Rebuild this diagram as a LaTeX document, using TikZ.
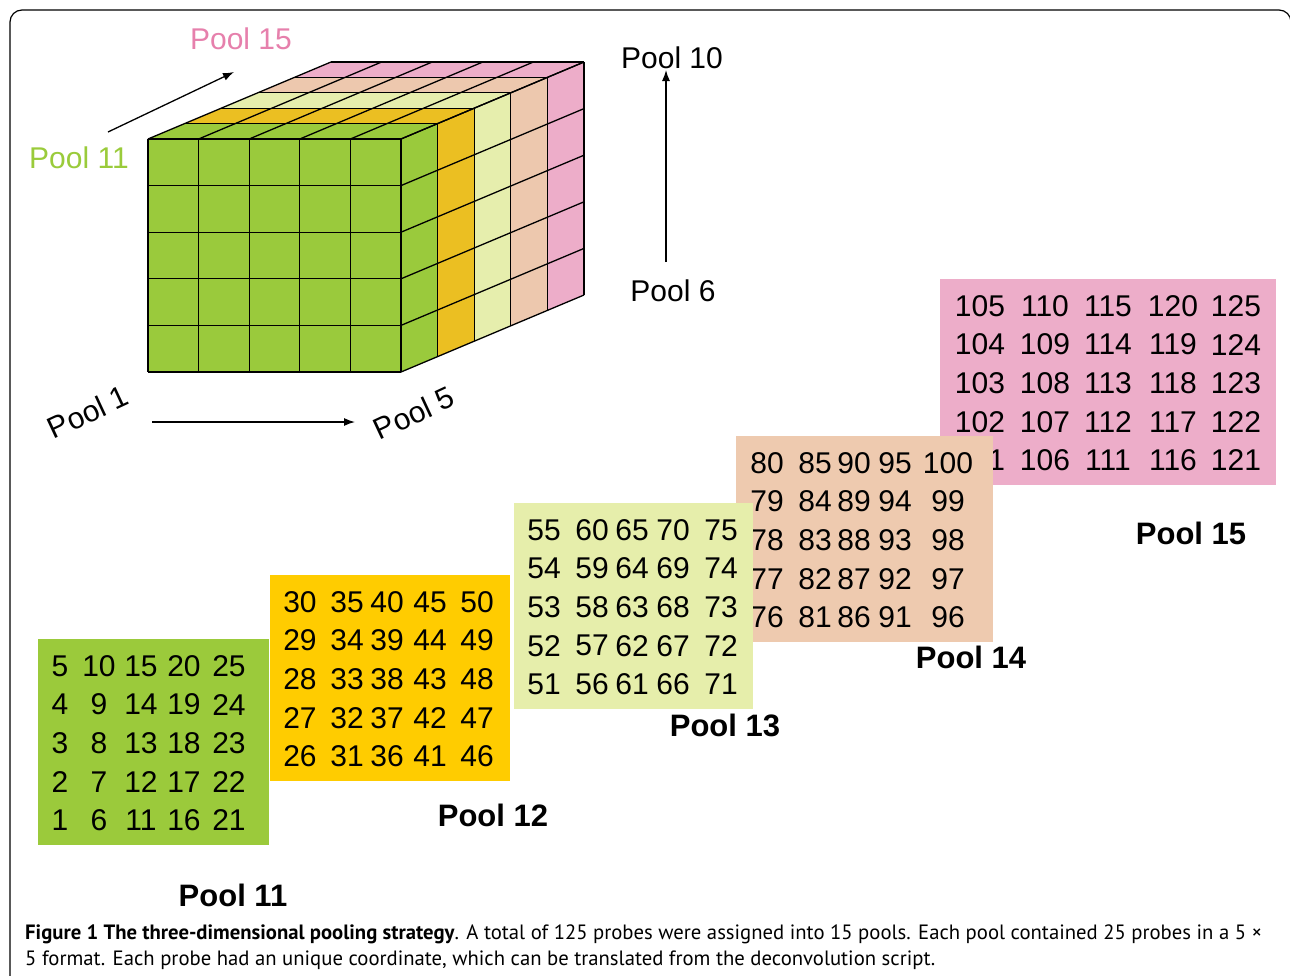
\documentclass[tikz,border=0pt]{standalone}
\usepackage{fontspec}
\setmainfont{Liberation Sans}
\newfontfamily\capfont{PT Sans}
\usetikzlibrary{arrows.meta}
\definecolor{cubegreen}{HTML}{9ACA3C}
\definecolor{cubeorange}{HTML}{EBBF22}
\definecolor{cubeyellow}{HTML}{E6EEAD}
\definecolor{cubepeach}{HTML}{EDC8AE}
\definecolor{cubepink}{HTML}{EDADC9}
\definecolor{panelgreen}{HTML}{9BCA3B}
\definecolor{panelorange}{HTML}{FFCC00}
\definecolor{panelyellow}{HTML}{E6EEAB}
\definecolor{panelpeach}{HTML}{EECAAF}
\definecolor{panelpink}{HTML}{EDADC9}
\definecolor{labelpink}{HTML}{E680AC}
\definecolor{labelgreen}{HTML}{9ACB3B}
\begin{document}
\begin{tikzpicture}[x=1pt,y=-1pt]
  \tikzset{
    cube line/.style={draw=black, line width=1.3pt},
    axis label/.style={font=\fontsize{30}{36}\selectfont, inner sep=0pt},
    pool title/.style={font=\fontsize{31}{36}\selectfont\bfseries, inner sep=0pt},
    probe/.style={font=\fontsize{30}{34}\selectfont, inner sep=0pt},
    panel/.style={inner sep=0pt, draw=none, anchor=north west, minimum height=206pt},
    caption/.style={font=\capfont\fontsize{20.7}{24}\selectfont, inner sep=0pt, anchor=base west},
    pointer/.style={-{Latex[length=11pt,width=8pt]}, line width=1.3pt}
  }
  \useasboundingbox (0,0) rectangle (1290,975);
  \draw[line width=1.2pt, rounded corners=12pt] (10,10) rectangle (1291,1000);

  % cube: five slabs, back to front
  \foreach \col [count=\k from 0] in {cubegreen,cubeorange,cubeyellow,cubepeach,cubepink} {
    \fill[\col] (148+\k*36.6,139-\k*15.4) -- ++(253,0) -- ++(36.6,-15.4) -- ++(-253,0) -- cycle;
    \fill[\col] (401+\k*36.6,139-\k*15.4) -- ++(36.6,-15.4) -- ++(0,233) -- ++(-36.6,15.4) -- cycle;
  }
  \fill[cubegreen] (148,139) rectangle (401,372);
  \foreach \i in {0,...,5} {
    \draw[cube line] (148+\i*50.6,139) -- ++(0,233);
    \draw[cube line] (148,139+\i*46.6) -- ++(253,0);
    \draw[cube line] (148+\i*50.6,139) -- ++(183,-77);
    \draw[cube line] (148+\i*36.6,139-\i*15.4) -- ++(253,0);
    \draw[cube line] (401,139+\i*46.6) -- ++(183,-77);
    \draw[cube line] (401+\i*36.6,139-\i*15.4) -- ++(0,233);
  }

  % axis labels
  \node[axis label, text=labelpink] (l15) at (241,39) {Pool 15};
  \node[axis label, text=labelgreen] (l11) at (79,158) {Pool 11};
  \node[axis label] (l10) at (672,58) {Pool 10};
  \node[axis label] (l6) at (673,291) {Pool 6};
  \node[axis label, rotate=25] (l1) at (88,412) {Pool 1};
  \node[axis label, rotate=25] (l5) at (414,413) {Pool 5};
  \coordinate (d0) at (108,132);
  \coordinate (d1) at (234,72);
  \coordinate (v0) at (666,262);
  \coordinate (v1) at (666,70);
  \coordinate (h0) at (152,422);
  \coordinate (h1) at (355,422);
  \draw[pointer] (d0) -- (d1);
  \draw[pointer] (v0) -- (v1);
  \draw[pointer] (h0) -- (h1);

  % the five pools as number sheets
  \foreach \pname/\base/\px/\py/\pw/\pcol/\cols in {
      p15/100/940/279/336/panelpink/{40,105,168,233,296},
      p14/75/736/436/257/panelpeach/{31,79,118,159,212},
      p13/50/514/503/239/panelyellow/{30,78,118,159,207},
      p12/25/270/575/240/panelorange/{30,77,117,160,207},
      p11/0/38/639/231/panelgreen/{22,61,103,146,191}} {
    \node[panel, fill=\pcol, minimum width=\pw pt] (\pname) at (\px,\py) {};
    \foreach \cx [count=\c from 0] in \cols
      \foreach \r in {0,...,4} {
        \pgfmathtruncatemacro\v{\base+5*\c+5-\r}
        \node[probe] (n\v) at (\px+\cx,\py+27+38.6*\r) {\v};
      }
  }
  \node[pool title] (t11) at (233,895) {Pool 11};
  \node[pool title] (t12) at (493,815) {Pool 12};
  \node[pool title] (t13) at (725,725) {Pool 13};
  \node[pool title] (t14) at (971,657) {Pool 14};
  \node[pool title] (t15) at (1191,533) {Pool 15};

  \node[caption] (cap1) at (25,939) {\textbf{Figure 1 The three-dimensional pooling strategy}. A total of 125 probes were assigned into 15 pools. Each pool contained 25 probes in a 5 ×};
  \node[caption] (cap2) at (25,965) {5 format. Each probe had an unique coordinate, which can be translated from the deconvolution script.};
\end{tikzpicture}
\end{document}
